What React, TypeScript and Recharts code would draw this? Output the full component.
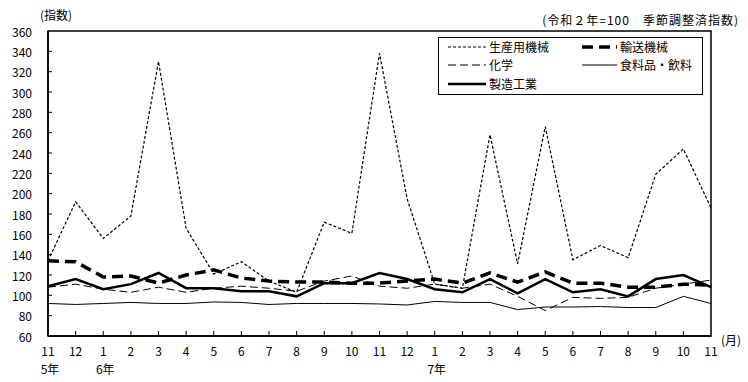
import React from 'react';
import { LineChart, Line, XAxis, YAxis, ReferenceArea } from 'recharts';

const FONT = '"Noto Sans CJK JP", "Noto Sans", sans-serif';

const months = [11, 12, 1, 2, 3, 4, 5, 6, 7, 8, 9, 10, 11, 12, 1, 2, 3, 4, 5, 6, 7, 8, 9, 10, 11];
const yearLabels: Record<number, string> = { 0: '5年', 2: '6年', 14: '7年' };
const yTicks = [60, 80, 100, 120, 140, 160, 180, 200, 220, 240, 260, 280, 300, 320, 340, 360];

const seisanYoKikai = [134, 192, 156, 178, 330, 166, 121, 133, 114, 103, 172, 161, 338, 195, 111, 107, 258, 131, 266, 135, 149, 137, 219, 244, 186];
const yusoKikai = [134, 133, 118, 119, 112, 120, 125, 117, 114, 113, 113, 112, 112, 114, 116, 112, 122, 113, 123, 112, 112, 108, 108, 111, 110];
const kagaku = [108, 111, 106, 103, 108, 103, 107, 109, 107, 104, 114, 119, 109, 107, 111, 107, 111, 99, 85, 98, 97, 98, 107, 111, 115];
const shokuryohin = [92, 91, 92, 93, 92, 92, 93.5, 93, 91, 92, 92, 92, 91.5, 90.5, 94, 93, 93, 86, 88.5, 88.5, 89, 88, 88, 99, 92];
const seizoKogyo = [109, 116, 106, 111, 122, 107, 107, 104, 104, 99, 112, 112, 122, 116, 106, 103, 116, 102, 116, 103, 106, 99, 116, 120, 108];

const seriesNames = ['生産用機械', '輸送機械', '化学', '食料品・飲料', '製造工業'];

const data = months.map((m, i) => ({
  i,
  s1: seisanYoKikai[i],
  s2: yusoKikai[i],
  s3: kagaku[i],
  s4: shokuryohin[i],
  s5: seizoKogyo[i],
}));

const styles: Record<string, { w: number; dash?: string }> = {
  s1: { w: 1.2, dash: '3 2' },
  s2: { w: 3.5, dash: '11 6' },
  s3: { w: 1, dash: '8 4' },
  s4: { w: 1 },
  s5: { w: 2.5 },
};

const XTick = (props: any) => {
  const { x, y, payload } = props;
  const i = payload.value as number;
  return (
    <g>
      {i > 0 && i < 24 && <line x1={x} y1={y} x2={x} y2={y - 5} stroke="#000" strokeWidth={1} />}
      <text x={x} y={y + 14} textAnchor="middle" dominantBaseline="central" fontSize={12} fontFamily={FONT} fill="#000">
        {months[i]}
      </text>
      {yearLabels[i] && (
        <text x={x + 2} y={y + 32} textAnchor="middle" dominantBaseline="central" fontSize={12} fontFamily={FONT} fill="#000">
          {yearLabels[i]}
        </text>
      )}
    </g>
  );
};

const YTick = (props: any) => {
  const { x, y, payload } = props;
  const v = payload.value as number;
  return (
    <g>
      {v > 60 && v < 360 && <line x1={x} y1={y} x2={x + 4} y2={y} stroke="#000" strokeWidth={1} />}
      <text x={x - 16} y={y} textAnchor="end" dominantBaseline="central" fontSize={12} fontFamily={FONT} fill="#000">
        {v}
      </text>
    </g>
  );
};

const LegendItem = ({ k, name, left, top, lineW }: { k: string; name: string; left: number; top: number; lineW: number }) => (
  <div style={{ position: 'absolute', left, top, display: 'flex', alignItems: 'center', height: 18 }}>
    <svg width={lineW} height={18} style={{ display: 'block' }}>
      <line x1={0} y1={9} x2={lineW} y2={9} stroke="#000" strokeWidth={styles[k].w} strokeDasharray={styles[k].dash} />
    </svg>
    <span style={{ marginLeft: 3, fontSize: 12, fontFamily: FONT, color: '#000', whiteSpace: 'nowrap', lineHeight: '18px' }}>{name}</span>
  </div>
);

export default function App() {
  return (
    <div style={{ position: 'absolute', left: 0, top: 0, width: 748, height: 382, background: '#fff', fontFamily: FONT }}>
      <LineChart width={748} height={382} data={data} margin={{ top: 31, right: 37, bottom: 16, left: 0 }}>
        <XAxis
          dataKey="i"
          type="number"
          domain={[0, 24]}
          ticks={months.map((_, i) => i)}
          interval={0}
          height={30}
          tickSize={0}
          tickMargin={0}
          tickLine={false}
          axisLine={{ stroke: '#000', strokeWidth: 1.5 }}
          tick={<XTick />}
        />
        <YAxis
          type="number"
          domain={[60, 360]}
          ticks={yTicks}
          interval={0}
          width={48}
          tickSize={0}
          tickMargin={0}
          tickLine={false}
          axisLine={{ stroke: '#000', strokeWidth: 1.5 }}
          tick={<YTick />}
        />
        <ReferenceArea x1={0} x2={24} y1={60} y2={360} fill="none" stroke="#000" strokeWidth={1.5} />
        <Line type="linear" dataKey="s4" name={seriesNames[3]} stroke="#000" strokeWidth={styles.s4.w} dot={false} isAnimationActive={false} />
        <Line type="linear" dataKey="s3" name={seriesNames[2]} stroke="#000" strokeWidth={styles.s3.w} strokeDasharray={styles.s3.dash} dot={false} isAnimationActive={false} />
        <Line type="linear" dataKey="s1" name={seriesNames[0]} stroke="#000" strokeWidth={styles.s1.w} strokeDasharray={styles.s1.dash} dot={false} isAnimationActive={false} />
        <Line type="linear" dataKey="s5" name={seriesNames[4]} stroke="#000" strokeWidth={styles.s5.w} dot={false} isAnimationActive={false} />
        <Line type="linear" dataKey="s2" name={seriesNames[1]} stroke="#000" strokeWidth={styles.s2.w} strokeDasharray={styles.s2.dash} dot={false} isAnimationActive={false} />
      </LineChart>

      <div style={{ position: 'absolute', left: 40, top: 6, fontSize: 12, fontFamily: FONT, color: '#000' }}>(指数)</div>
      <div style={{ position: 'absolute', right: 9, top: 11, fontSize: 12, fontFamily: FONT, color: '#000', whiteSpace: 'nowrap', letterSpacing: 1 }}>
        (令和２年=100　季節調整済指数)
      </div>
      <div style={{ position: 'absolute', left: 721, top: 331, fontSize: 12, fontFamily: FONT, color: '#000' }}>(月)</div>

      <div style={{ position: 'absolute', left: 438, top: 37, width: 265, height: 58, border: '1.5px solid #000', background: '#fff', boxSizing: 'border-box' }}>
        <LegendItem k="s1" name={seriesNames[0]} left={9} top={0} lineW={38} />
        <LegendItem k="s2" name={seriesNames[1]} left={143} top={0} lineW={35} />
        <LegendItem k="s3" name={seriesNames[2]} left={9} top={18} lineW={38} />
        <LegendItem k="s4" name={seriesNames[3]} left={143} top={18} lineW={35} />
        <LegendItem k="s5" name={seriesNames[4]} left={9} top={37} lineW={38} />
      </div>
    </div>
  );
}
